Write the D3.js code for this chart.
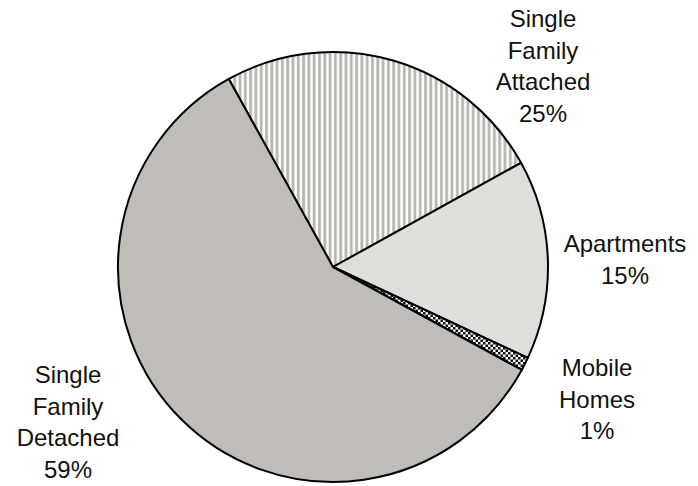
<!DOCTYPE html>
<html>
<head>
<meta charset="utf-8">
<script src="https://cdn.jsdelivr.net/npm/d3@7"></script>
<style>
  body { margin: 0; background: #fff; }
  text { font-family: "Liberation Sans", Arial, sans-serif; fill: #111; }
</style>
</head>
<body>
<div id="chart"></div>
<script>
// Housing type shares (percent)
const categories = ["Single Family Attached", "Apartments", "Mobile Homes", "Single Family Detached"];
const shares = [25, 15, 1, 59];
const labelLines = [
  ["Single", "Family", "Attached", "25%"],
  ["Apartments", "15%"],
  ["Mobile", "Homes", "1%"],
  ["Single", "Family", "Detached", "59%"]
];

const width = 698, height = 486;
const cx = 333, cy = 267, radius = 215;
const startDeg = -29;

// label anchor (x, first baseline) for each slice
const labelPos = {
  "Single Family Attached": [543, 27],
  "Apartments": [625, 252],
  "Mobile Homes": [597, 376],
  "Single Family Detached": [68, 383]
};
const lineGap = 31.5;

const svg = d3.select("#chart")
  .append("svg")
  .attr("width", width)
  .attr("height", height);

const defs = svg.append("defs");

// vertical stripes
const stripes = defs.append("pattern")
  .attr("id", "stripes")
  .attr("patternUnits", "userSpaceOnUse")
  .attr("width", 5.3)
  .attr("height", 10);
stripes.append("rect").attr("width", 5.3).attr("height", 10).attr("fill", "#fdfdfc");
stripes.append("rect").attr("x", 1).attr("width", 2.8).attr("height", 10).attr("fill", "#b9b6b1");

// checker dots
const dots = defs.append("pattern")
  .attr("id", "dots")
  .attr("patternUnits", "userSpaceOnUse")
  .attr("width", 5)
  .attr("height", 5);
dots.append("rect").attr("width", 5).attr("height", 5).attr("fill", "#fff");
dots.append("rect").attr("width", 2.5).attr("height", 2.5).attr("fill", "#111");
dots.append("rect").attr("x", 2.5).attr("y", 2.5).attr("width", 2.5).attr("height", 2.5).attr("fill", "#111");

const fills = {
  "Single Family Attached": "url(#stripes)",
  "Apartments": "#e0dedb",
  "Mobile Homes": "url(#dots)",
  "Single Family Detached": "#c0bdb8"
};

const slices = categories.map((c, i) => ({ category: c, value: shares[i], lines: labelLines[i] }));

const pie = d3.pie()
  .sort(null)
  .value(d => d.value)
  .startAngle(startDeg * Math.PI / 180)
  .endAngle(startDeg * Math.PI / 180 + 2 * Math.PI);

const arc = d3.arc().innerRadius(0).outerRadius(radius);

const g = svg.append("g").attr("transform", `translate(${cx},${cy})`);

g.selectAll("path")
  .data(pie(slices))
  .enter()
  .append("path")
  .attr("d", arc)
  .attr("fill", d => fills[d.data.category])
  .attr("stroke", "#000")
  .attr("stroke-width", 2)
  .attr("stroke-linejoin", "round");

// labels
const labels = svg.selectAll(".lbl")
  .data(slices)
  .enter()
  .append("text")
  .attr("class", "lbl")
  .attr("text-anchor", "middle")
  .style("font-size", "24px");

labels.each(function(d) {
  const [x, y] = labelPos[d.category];
  d3.select(this).selectAll("tspan")
    .data(d.lines)
    .enter()
    .append("tspan")
    .attr("x", x)
    .attr("y", (t, i) => y + i * lineGap)
    .text(t => t);
});
</script>
</body>
</html>
